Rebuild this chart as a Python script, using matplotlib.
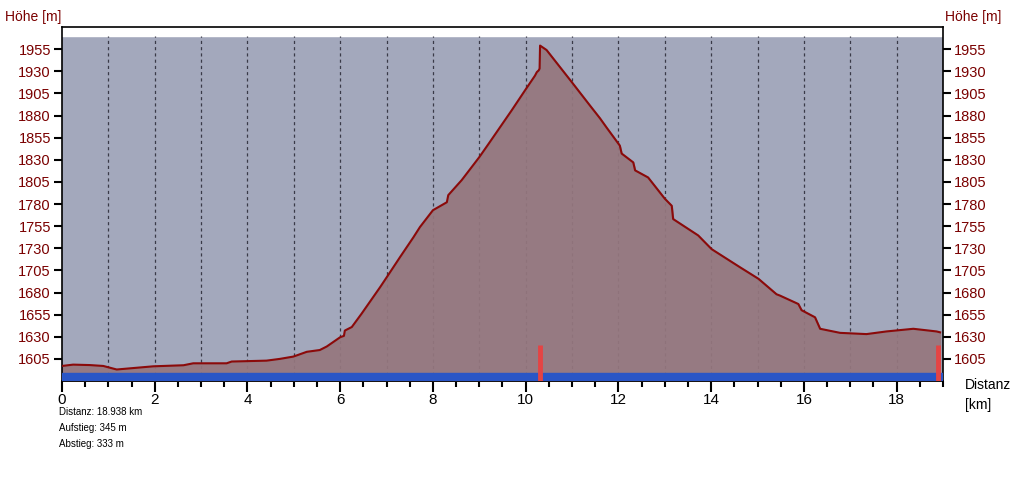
import numpy as np
import matplotlib.pyplot as plt
from matplotlib.ticker import MultipleLocator

plt.rcParams['font.family'] = ['Liberation Sans', 'DejaVu Sans']

# Höhenprofil (Distanz in km, Höhe in m)
dist = [0.0, 0.24, 0.60, 0.89, 1.18, 1.40, 1.97, 2.62, 2.83, 3.55, 3.66, 4.41,
        4.70, 4.99, 5.28, 5.56, 5.71, 6.0, 6.08, 6.10, 6.25, 6.46, 6.86, 7.0,
        7.29, 7.58, 7.72, 8.0, 8.30, 8.33, 8.62, 9.0, 9.2, 9.45, 9.7, 9.98,
        10.2, 10.24, 10.28, 10.30, 10.31, 10.45, 10.81, 10.99, 11.39, 11.6,
        11.75, 12.03, 12.07, 12.32, 12.36, 12.64, 13.0, 13.15, 13.18, 13.72,
        14.01, 14.62, 15.02, 15.41, 15.48, 15.88, 15.95, 16.24, 16.35, 16.78,
        17.35, 17.78, 18.36, 18.86, 18.938]
hoehe = [1597, 1598.5, 1598, 1597, 1593, 1594, 1596.6, 1597.8, 1600, 1600, 1602, 1603,
         1605, 1607.6, 1613, 1615, 1619, 1629.5, 1631, 1637, 1641, 1656, 1686, 1697,
         1720, 1742.5, 1754, 1773, 1782, 1790, 1807, 1833, 1848, 1867, 1886, 1908,
         1925, 1929, 1931, 1933, 1959, 1954, 1930, 1918, 1891, 1877,
         1866, 1846, 1837, 1827, 1818, 1810, 1786, 1778, 1763, 1744.5,
         1729, 1708.6, 1695.5, 1678, 1676.6, 1667, 1660, 1652, 1639, 1634.4,
         1633, 1636, 1639, 1636, 1635]

marker_km = [10.31, 18.90]
stats = ["Distanz: 18.938 km", "Aufstieg: 345 m", "Abstieg: 333 m"]
y_ticks = list(range(1605, 1956, 25))
x_ticks = list(range(0, 19, 2))

dunkelrot = '#7a0000'

fig = plt.figure(figsize=(10.24, 4.8), dpi=100)
ax = fig.add_axes([62/1024, 1 - 381/480, (943-62)/1024, (381-27)/480])
ax.set_xlim(0, 19.0)
ax.set_ylim(1580, 1980)
ax.set_facecolor('#a3a8bc')

ax.axhspan(1970, 1980, color='white', zorder=1)
for k in range(1, 19):
    ax.axvline(k, ymax=(1970-1580)/400, color='#3a3a48', lw=0.9,
               linestyle=(0, (2.5, 2.5)), zorder=1)

ax.fill_between(dist, hoehe, 1580, color='#95777e', alpha=0.93, zorder=2)
ax.plot(dist, hoehe, color='#8b0a0a', lw=1.5, zorder=3)
ax.axhspan(1580, 1588.7, color='#2a56c6', zorder=4)
for m in marker_km:
    ax.vlines(m, 1580, 1621, color='#e44444', lw=3.5, zorder=5)

ax.set_yticks(y_ticks)
ax.set_xticks(x_ticks)
ax.xaxis.set_minor_locator(MultipleLocator(0.5))
ax.tick_params(axis='y', which='both', direction='out', length=6, width=1.5,
               labelsize=10.5, labelcolor=dunkelrot, left=True, right=True,
               labelleft=True, labelright=True, pad=2)
ax.tick_params(axis='x', which='major', direction='out', length=8, width=1.5,
               labelsize=11, pad=1)
ax.tick_params(axis='x', which='minor', direction='out', length=4, width=1.5)
for s in ax.spines.values():
    s.set_linewidth(1.2)

fig.text(5/1024, 1 - 17/480, 'Höhe [m]', color=dunkelrot, fontsize=10,
         va='center', ha='left')
fig.text(945/1024, 1 - 17/480, 'Höhe [m]', color=dunkelrot, fontsize=10,
         va='center', ha='left')
fig.text(965/1024, 1 - 385/480, 'Distanz', fontsize=10, va='center', ha='left')
fig.text(965/1024, 1 - 405/480, '[km]', fontsize=10, va='center', ha='left')
for i, t in enumerate(stats):
    fig.text(59/1024, 1 - (412 + i*16)/480, t, fontsize=7, va='center', ha='left')

fig.savefig('out.png', dpi=100)
